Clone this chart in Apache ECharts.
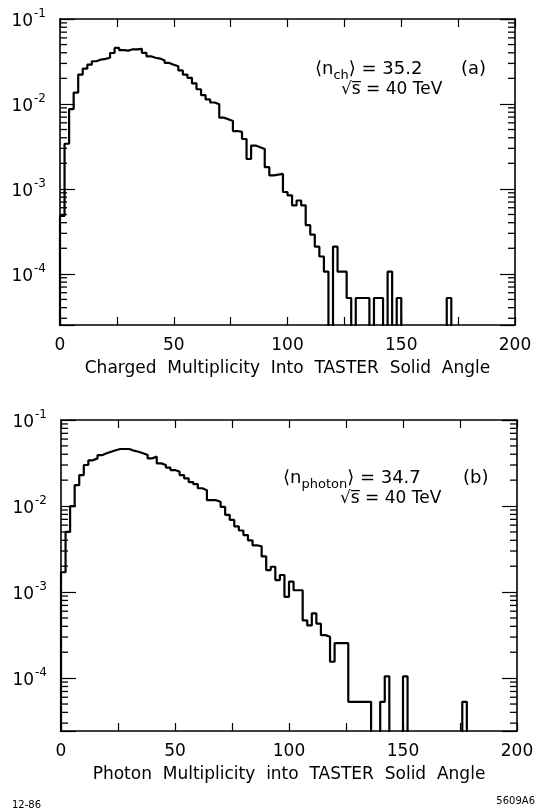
<!DOCTYPE html>
<html><head><meta charset="utf-8">
<script src="https://cdn.jsdelivr.net/npm/echarts@6/dist/echarts.min.js"></script>
<style>html,body{margin:0;padding:0;background:#fff}#c{width:538px;height:812px}</style>
</head><body><div id="c"></div>
<script>
// ---- data ----
const binWidth = 2; // multiplicity bins: [0,2), [2,4), ...
const chargedValues = [
  4.8e-4, 3.4e-3, 8.7e-3, 1.36e-2, 2.22e-2, 2.6e-2, 2.9e-2, 3.18e-2, 3.33e-2, 3.39e-2,
  3.5e-2, 3.98e-2, 4.56e-2, 4.3e-2, 4.25e-2, 4.4e-2, 4.4e-2, 4.45e-2, 4.0e-2, 3.64e-2,
  3.5e-2, 3.42e-2, 3.24e-2, 3.04e-2, 2.9e-2, 2.78e-2, 2.48e-2, 2.22e-2, 2.03e-2, 1.75e-2,
  1.49e-2, 1.27e-2, 1.13e-2, 1.04e-2, 9.9e-3, 6.9e-3, 6.6e-3, 6.3e-3, 4.8e-3, 4.7e-3,
  3.87e-3, 2.25e-3, 3.24e-3, 3.1e-3, 2.95e-3, 1.8e-3, 1.44e-3, 1.47e-3, 1.5e-3, 9.2e-4,
  8.4e-4, 6.4e-4, 7.3e-4, 6.4e-4, 3.74e-4, 2.9e-4, 2.09e-4, 1.6e-4, 1.06e-4, 0,
  2.09e-4, 1.06e-4, 1.06e-4, 5.2e-5, 0, 5.2e-5, 5.2e-5, 5.2e-5, 0, 5.2e-5,
  5.2e-5, 0, 1.06e-4, 0, 5.2e-5, 0, 0, 0, 0, 0,
  0, 0, 0, 0, 0, 5.2e-5, 0, 0, 0, 0,
  0, 0, 0, 0, 0, 0, 0, 0, 0, 0
];
const photonValues = [
  1.7e-3, 5.0e-3, 1.0e-2, 1.75e-2, 2.29e-2, 3.0e-2, 3.4e-2, 3.58e-2, 3.9e-2, 4.1e-2,
  4.28e-2, 4.45e-2, 4.6e-2, 4.6e-2, 4.6e-2, 4.4e-2, 4.28e-2, 4.1e-2, 3.92e-2, 3.58e-2,
  3.75e-2, 3.13e-2, 3.0e-2, 2.8e-2, 2.62e-2, 2.51e-2, 2.29e-2, 2.1e-2, 1.9e-2, 1.8e-2,
  1.61e-2, 1.53e-2, 1.17e-2, 1.17e-2, 1.12e-2, 9.8e-3, 7.9e-3, 6.9e-3, 5.8e-3, 5.2e-3,
  4.6e-3, 4.0e-3, 3.5e-3, 3.4e-3, 2.6e-3, 1.8e-3, 1.97e-3, 1.38e-3, 1.58e-3, 8.8e-4,
  1.32e-3, 1.05e-3, 1.05e-3, 4.7e-4, 4.1e-4, 5.65e-4, 4.3e-4, 3.16e-4, 3.02e-4, 1.55e-4,
  2.55e-4, 2.55e-4, 2.55e-4, 5.3e-5, 5.3e-5, 5.3e-5, 5.3e-5, 5.3e-5, 0, 0,
  5.3e-5, 1.05e-4, 0, 0, 0, 1.05e-4, 0, 0, 0, 0,
  0, 0, 0, 0, 0, 0, 0, 0, 5.3e-5, 0,
  0, 0, 0, 0, 0, 0, 0, 0, 0, 0
];
const xTickLabels = ['0', '50', '100', '150', '200'];
const xTitles = ['Charged  Multiplicity  Into  TASTER  Solid  Angle', 'Photon  Multiplicity  into  TASTER  Solid  Angle'];
const yMax = 0.1;
const yMins = [2.5e-5, 2.43e-5];

// ---- chart ----
const FONT = 'DejaVu Sans';
const grids = [
  { left: 60, top: 19, width: 455, height: 306, outerBoundsMode: 'none' },
  { left: 61, top: 420, width: 456, height: 311, outerBoundsMode: 'none' }
];

function stepData(vals, floor) {
  const d = [[0, floor]];
  vals.forEach((v, i) => d.push([i * binWidth, v > 0 ? v : floor]));
  d.push([vals.length * binWidth, floor]);
  return d;
}

// minor (2..9 x 10^n) tick values inside an axis range
function minorTickValues(min, max) {
  const out = [];
  for (let e = Math.floor(Math.log10(min)); e < Math.ceil(Math.log10(max)); e++) {
    for (let m = 2; m <= 9; m++) {
      const v = m * Math.pow(10, e);
      if (v > min && v < max) out.push(v);
    }
  }
  return out;
}

function yLabel(v) {
  const l = Math.log10(v);
  const e = Math.round(l);
  if (Math.abs(l - e) > 1e-6) return '';
  return '{b|10}{s|' + e + '}';
}

const xAxes = [], yAxes = [], series = [];
[0, 1].forEach(g => {
  const axisLine = { show: true, onZero: false, lineStyle: { color: '#000', width: 1.6 } };
  const base = {
    gridIndex: g, type: 'value', min: 0, max: 200, interval: 25,
    axisLine, splitLine: { show: false },
    axisTick: { show: true, inside: true, length: 8, lineStyle: { color: '#000', width: 1.2 } }
  };
  xAxes.push(Object.assign({}, base, {
    position: 'bottom',
    axisLabel: {
      show: true, margin: 12, color: '#000', fontSize: 17, fontFamily: FONT,
      formatter: v => xTickLabels.includes(String(v)) ? String(v) : ''
    },
    name: xTitles[g], nameLocation: 'middle', nameGap: 35,
    nameTextStyle: { color: '#000', fontSize: 17, fontFamily: FONT }
  }));
  xAxes.push(Object.assign({}, base, { position: 'top', axisLabel: { show: false } }));
  const ybase = {
    gridIndex: g, type: 'log', logBase: 10, min: yMins[g], max: yMax,
    axisLine, splitLine: { show: false }, minorSplitLine: { show: false },
    axisTick: { show: true, inside: true, length: 15, lineStyle: { color: '#000', width: 1.2 } }
  };
  yAxes.push(Object.assign({}, ybase, {
    position: 'left',
    axisLabel: {
      show: true, margin: 14, color: '#000', formatter: yLabel,
      rich: {
        b: { fontSize: 17, fontFamily: FONT, color: '#000', verticalAlign: 'bottom' },
        s: { fontSize: 12, fontFamily: FONT, color: '#000', verticalAlign: 'bottom', padding: [0, 0, 10, 1] }
      }
    }
  }));
  yAxes.push(Object.assign({}, ybase, { position: 'right', axisLabel: { show: false } }));
  const vals = g === 0 ? chargedValues : photonValues;
  series.push({
    type: 'line', xAxisIndex: g * 2, yAxisIndex: g * 2, step: 'end',
    data: stepData(vals, yMins[g] / 10), clip: true,
    symbol: 'none', showSymbol: false,
    lineStyle: { color: '#000', width: 2.2 }, z: 1
  });
});

const T = { fill: '#000', fontFamily: FONT };
function txt(x, y, text, rich, size) {
  return { type: 'text', x, y, style: Object.assign({ text, rich, fontSize: size || 18, textVerticalAlign: 'middle' }, T) };
}
const richMean = {
  m: { fontSize: 18, fontFamily: FONT, fill: '#000', verticalAlign: 'bottom' },
  sub: { fontSize: 13, fontFamily: FONT, fill: '#000', verticalAlign: 'bottom', padding: [0, 0, -4, 0] }
};

const graphics = [
  txt(315, 69, '{m|\u27E8n}{sub|ch}{m|\u27E9 = 35.2}', richMean),
  txt(461, 69, '(a)'),
  txt(341, 90, '\u221As\u0305 = 40 TeV', null, 17),
  txt(283, 478, '{m|\u27E8n}{sub|photon}{m|\u27E9 = 34.7}', richMean),
  txt(463, 478, '(b)'),
  txt(340, 499, '\u221As\u0305 = 40 TeV', null, 17),
  { type: 'text', x: 12, y: 805, style: Object.assign({ text: '12-86', fontSize: 10, textVerticalAlign: 'middle' }, T) },
  { type: 'text', x: 535, y: 801, style: Object.assign({ text: '5609A6', fontSize: 10, textAlign: 'right', textVerticalAlign: 'middle' }, T) }
];

const option = {
  animation: false,
  backgroundColor: '#fff',
  grid: grids,
  xAxis: xAxes,
  yAxis: yAxes,
  series,
  graphic: graphics
};
const chart = echarts.init(document.getElementById('c'), null, { renderer: 'canvas' });
chart.setOption(option);

// minor log ticks on the left and right frame, positioned through each panel's log scale
const tickGraphics = [];
[0, 1].forEach(g => {
  minorTickValues(yMins[g], yMax).forEach(v => {
    const pL = chart.convertToPixel({ xAxisIndex: g * 2, yAxisIndex: g * 2 }, [0, v]);
    const pR = chart.convertToPixel({ xAxisIndex: g * 2, yAxisIndex: g * 2 }, [200, v]);
    if (!pL || !pR) return;
    tickGraphics.push({ type: 'line', z: 100, shape: { x1: pL[0], y1: pL[1], x2: pL[0] + 7, y2: pL[1] }, style: { stroke: '#000', lineWidth: 1.3 } });
    tickGraphics.push({ type: 'line', z: 100, shape: { x1: pR[0], y1: pR[1], x2: pR[0] - 7, y2: pR[1] }, style: { stroke: '#000', lineWidth: 1.3 } });
  });
});
chart.setOption({ graphic: graphics.concat(tickGraphics) });
</script></body></html>
